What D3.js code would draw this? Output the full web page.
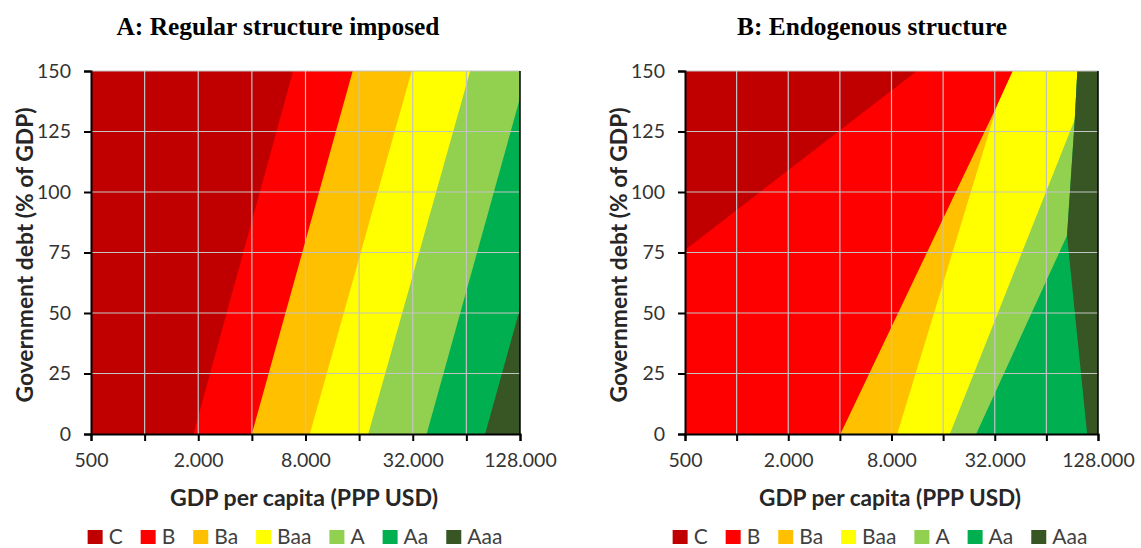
<!DOCTYPE html>
<html><head><meta charset="utf-8">
<script src="https://cdn.jsdelivr.net/npm/d3@7"></script>
<style>
html,body{margin:0;padding:0;background:#fff;}
svg{display:block;}
</style></head><body>
<svg id="chart" width="1141" height="548"></svg>
<script>
// ---------- DATA ----------
const ratings = ["C","B","Ba","Baa","A","Aa","Aaa"];
const ratingColors = ["#C00000","#FF0000","#FFC000","#FFFF00","#92D050","#00B050","#375623"];
const xTickValues = [500,1000,2000,4000,8000,16000,32000,64000,128000];
const xTickLabels = ["500","","2.000","","8.000","","32.000","","128.000"];
const yTickValues = [0,25,50,75,100,125,150];
const panelTitles = ["A: Regular structure imposed","B: Endogenous structure"];
const xAxisTitle = "GDP per capita (PPP USD)";
const yAxisTitle = "Government debt (% of GDP)";

// Panel A: straight rating boundaries (GDP per capita at debt 0 and at debt 150)
const regularDebtEnds = [0,150];
const regularGdpAtDebt0 = [1880,4000,8460,18000,38300,81600];
const regularGdpAtDebt150 = [6820,14720,31560,67200,141000,300200];

// Panel B: rating boundaries as [debt, GDP per capita] points
const endoC_B = [[0,500],[76,500],[150,11240]];
const endoB_Ba = [[0,4030],[136,33130],[150,40790]];
const endoBa_Baa = [[0,8640],[136,33130],[150,40790]];
const endoBaa_A = [[0,17510],[130,93700],[150,97000]];
const endoA_Aa = [[0,24940],[82,84450],[130,93700],[150,97000]];
const endoAa_Aaa = [[0,110650],[82,84450],[130,93700],[150,97000]];

// ---------- DRAW ----------
const svg = d3.select("#chart");
const panels = [
  {left:91, right:520, top:71, bottom:434, titleX:278, yTitleX:25, legendCx:295, xTitleCx:304, xTitleW:268,
   boundaries: regularGdpAtDebt0.map((g,i)=>[[regularDebtEnds[0],g],[regularDebtEnds[1],regularGdpAtDebt150[i]]]),
   titleW:323},
  {left:685, right:1098, top:71, bottom:434, titleX:872, yTitleX:619, legendCx:880, xTitleCx:890, xTitleW:262,
   boundaries:[endoC_B,endoB_Ba,endoBa_Baa,endoBaa_A,endoA_Aa,endoAa_Aaa],
   titleW:270}
];

function fit(sel, w){
  const n = sel.node().getComputedTextLength();
  const fs = parseFloat(sel.attr("font-size"));
  if (n>0) sel.attr("font-size", (fs*w/n).toFixed(2));
}

panels.forEach((p,pi)=>{
  const x = d3.scaleLog().base(2).domain([500,128000]).range([p.left,p.right]);
  const y = d3.scaleLinear().domain([0,150]).range([p.bottom,p.top]);
  const g = svg.append("g");
  const clipId = "clip"+pi;
  svg.append("clipPath").attr("id",clipId).append("rect")
    .attr("x",p.left).attr("y",p.top).attr("width",p.right-p.left).attr("height",p.bottom-p.top);

  const line = d3.line().x(d=>x(d[1])).y(d=>y(d[0]));
  const leftEdge = [[0,500],[150,500]];
  const farRight = 1e6;
  const rightEdge = [[0,farRight],[150,farRight]];
  const area = g.append("g").attr("clip-path",`url(#${clipId})`);
  // painter's order: each rating fills from its left boundary to the far right
  ratings.forEach((r,i)=>{
    const lb = i===0 ? leftEdge : p.boundaries[i-1];
    const pts = lb.concat(rightEdge.slice().reverse());
    area.append("path").attr("d", line(pts)+"Z").attr("fill", ratingColors[i]);
  });

  // gridlines
  const grid = g.append("g").attr("stroke","#C3C3C3").attr("stroke-width",1.2);
  xTickValues.slice(1,-1).forEach(v=>{
    grid.append("line").attr("x1",x(v)).attr("x2",x(v)).attr("y1",p.top).attr("y2",p.bottom);
  });
  yTickValues.slice(1).forEach(v=>{
    grid.append("line").attr("x1",p.left).attr("x2",p.right).attr("y1",y(v)).attr("y2",y(v));
  });

  // axes
  const xAxis = d3.axisBottom(x).tickValues(xTickValues).tickFormat((d,i)=>xTickLabels[i]).tickSize(7).tickPadding(12);
  const gx = g.append("g").attr("transform",`translate(0,${p.bottom})`).call(xAxis);
  gx.select(".domain").attr("stroke","#000").attr("stroke-width",2);
  gx.selectAll(".tick line").attr("stroke","#000").attr("stroke-width",2);
  gx.selectAll(".tick text").attr("font-family","Lato, sans-serif").attr("font-size",19.5).attr("fill","#333");

  const yAxis = d3.axisLeft(y).tickValues(yTickValues).tickSize(7).tickPadding(13);
  const gy = g.append("g").attr("transform",`translate(${p.left},0)`).call(yAxis);
  gy.select(".domain").attr("stroke","#000").attr("stroke-width",2);
  gy.selectAll(".tick line").attr("stroke","#000").attr("stroke-width",2);
  gy.selectAll(".tick text").attr("font-family","Lato, sans-serif").attr("font-size",19.5).attr("fill","#333");

  g.append("line").attr("x1",p.right).attr("x2",p.right).attr("y1",p.top).attr("y2",p.bottom)
    .attr("stroke","#000").attr("stroke-width",1.5);

  // titles
  const t = g.append("text").attr("x",p.titleX).attr("y",35).attr("text-anchor","middle")
    .attr("font-family","'Liberation Serif', serif").attr("font-weight","bold").attr("font-size",24)
    .attr("fill","#000").text(panelTitles[pi]);
  fit(t, p.titleW);

  g.append("text").attr("x",p.xTitleCx).attr("y",506).attr("text-anchor","middle")
    .attr("font-family","Lato, sans-serif").attr("font-weight","bold").attr("font-size",22.5)
    .attr("textLength",p.xTitleW).attr("lengthAdjust","spacingAndGlyphs")
    .attr("fill","#262626").text(xAxisTitle);

  g.append("text").attr("transform",`translate(${p.yTitleX+8},255) rotate(-90)`)
    .attr("text-anchor","middle")
    .attr("font-family","Lato, sans-serif").attr("font-weight","bold").attr("font-size",22.5)
    .attr("textLength",295).attr("lengthAdjust","spacingAndGlyphs")
    .attr("fill","#262626").text(yAxisTitle);

  // legend
  const lg = g.append("g");
  let cx = 0;
  ratings.forEach((r,i)=>{
    const it = lg.append("g").attr("transform",`translate(${cx},0)`);
    it.append("rect").attr("x",0).attr("y",-14).attr("width",15).attr("height",14).attr("fill",ratingColors[i]);
    const tx = it.append("text").attr("x",21).attr("y",0).attr("font-family","Lato, sans-serif")
      .attr("font-size",21).attr("fill","#404040").text(r);
    const w = tx.node().getComputedTextLength();
    cx += 21 + w + (i<ratings.length-1 ? 18 : 0);
  });
  lg.attr("transform",`translate(${p.legendCx - cx/2},544)`);
});
</script>
</body></html>
